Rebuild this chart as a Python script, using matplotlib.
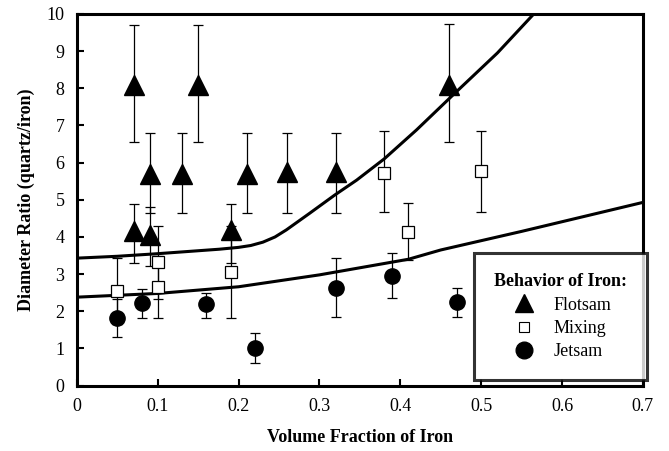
import numpy as np
import matplotlib.pyplot as plt
from matplotlib.lines import Line2D

plt.rcParams['font.family'] = ['Liberation Serif', 'DejaVu Serif']

# flotsam (triangles): x, y, lower end, upper end of error bar
flot_x = [0.07, 0.09, 0.13, 0.15, 0.21, 0.26, 0.32, 0.46, 0.07, 0.09, 0.19]
flot_y = [8.1, 5.7, 5.7, 8.1, 5.7, 5.75, 5.75, 8.1, 4.15, 4.05, 4.2]
flot_lo = [6.55, 4.65, 4.65, 6.55, 4.65, 4.65, 4.65, 6.55, 3.3, 3.22, 3.3]
flot_hi = [9.7, 6.8, 6.8, 9.7, 6.8, 6.8, 6.8, 9.72, 4.9, 4.8, 4.9]

# mixing (open squares)
mix_x = [0.05, 0.10, 0.10, 0.19, 0.38, 0.41, 0.50]
mix_y = [2.55, 3.32, 2.65, 3.05, 5.72, 4.14, 5.77]
mix_lo = [1.65, 2.33, 1.83, 1.83, 4.66, 3.38, 4.66]
mix_hi = [3.43, 4.3, 3.48, 4.3, 6.85, 4.92, 6.85]

# jetsam (filled circles)
jet_x = [0.05, 0.08, 0.16, 0.22, 0.32, 0.39, 0.47]
jet_y = [1.83, 2.22, 2.2, 1.02, 2.62, 2.94, 2.24]
jet_lo = [1.32, 1.82, 1.82, 0.62, 1.84, 2.36, 1.84]
jet_hi = [2.33, 2.6, 2.5, 1.42, 3.43, 3.56, 2.63]

# boundary curves
up_x = [0, 0.05, 0.1, 0.176, 0.2, 0.215, 0.23, 0.245, 0.259, 0.288, 0.319, 0.346,
        0.38, 0.42, 0.467, 0.52, 0.565]
up_y = [3.43, 3.48, 3.55, 3.67, 3.72, 3.77, 3.86, 4.0, 4.19, 4.64, 5.13, 5.53,
        6.1, 6.88, 7.86, 8.95, 10.0]
low_x = [0, 0.1, 0.2, 0.3, 0.41, 0.45, 0.55, 0.7]
low_y = [2.38, 2.48, 2.66, 2.98, 3.4, 3.65, 4.15, 4.93]

fig = plt.figure(figsize=(6.69, 4.51), dpi=100)
ax = fig.add_axes([0.115, 0.145, 0.846, 0.824])

ax.plot(up_x, up_y, color='black', lw=2.2, zorder=2)
ax.plot(low_x, low_y, color='black', lw=2.2, zorder=2)

def errs(y, lo, hi):
    y = np.array(y)
    return [y - np.array(lo), np.array(hi) - y]

ax.errorbar(flot_x, flot_y, yerr=errs(flot_y, flot_lo, flot_hi), fmt='^',
            color='black', ms=15, ecolor='black', elinewidth=0.9, capsize=3.5,
            capthick=0.9, zorder=3)
ax.errorbar(mix_x, mix_y, yerr=errs(mix_y, mix_lo, mix_hi), fmt='s',
            mfc='white', mec='black', mew=0.9, ms=8, ecolor='black',
            elinewidth=0.9, capsize=3.5, capthick=0.9, zorder=3)
ax.errorbar(jet_x, jet_y, yerr=errs(jet_y, jet_lo, jet_hi), fmt='o',
            color='black', ms=11, ecolor='black', elinewidth=0.9, capsize=3.5,
            capthick=0.9, zorder=3)

ax.set_xlim(0, 0.7)
ax.set_ylim(0, 10)
ax.set_xticks([0, 0.1, 0.2, 0.3, 0.4, 0.5, 0.6, 0.7])
ax.set_xticklabels(['0', '0.1', '0.2', '0.3', '0.4', '0.5', '0.6', '0.7'])
ax.set_yticks(range(11))
ax.tick_params(direction='in', length=5, width=1.5, labelsize=13, pad=9)
for s in ax.spines.values():
    s.set_linewidth(2.2)

ax.set_xlabel('Volume Fraction of Iron', fontsize=13, fontweight='bold', labelpad=10)
ax.set_ylabel('Diameter Ratio (quartz/iron)', fontsize=13, fontweight='bold', labelpad=8)

handles = [
    Line2D([], [], ls='', marker='^', color='black', ms=13),
    Line2D([], [], ls='', marker='s', mfc='white', mec='black', mew=0.8, ms=7),
    Line2D([], [], ls='', marker='o', color='black', ms=12),
]
leg = ax.legend(handles, ['Flotsam', 'Mixing', 'Jetsam'], title='Behavior of Iron:',
                loc='lower right', bbox_to_anchor=(1.007, 0.015), borderaxespad=0,
                fontsize=13, title_fontproperties={'weight': 'bold', 'size': 13},
                frameon=True, fancybox=False, edgecolor='black',
                borderpad=1.1, handletextpad=0.8, labelspacing=0.35,
                handlelength=1.6)
leg.get_frame().set_linewidth(2.2)
leg.set_zorder(5)

fig.savefig('out.png', dpi=100)
